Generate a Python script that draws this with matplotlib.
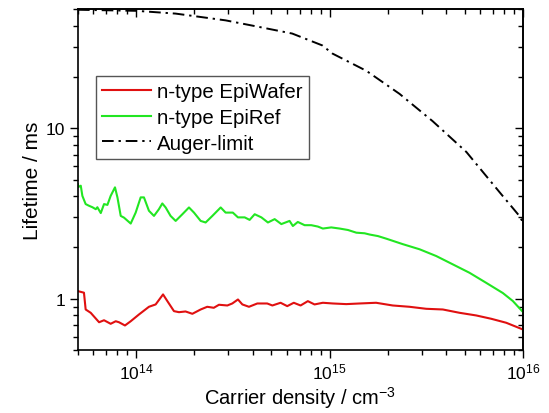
import matplotlib
matplotlib.use("Agg")
import matplotlib.pyplot as plt
from matplotlib.ticker import LogLocator, NullFormatter, FixedLocator, FixedFormatter

plt.rcParams['font.family'] = ['Liberation Sans', 'DejaVu Sans']
plt.rcParams['mathtext.fontset'] = 'custom'
plt.rcParams['mathtext.rm'] = 'Liberation Sans'
plt.rcParams['mathtext.it'] = 'Liberation Sans'

# n-type EpiWafer (carrier density in cm^-3, lifetime in ms)
wafer_n = [5.0e13, 5.37e13, 5.48e13, 5.82e13, 6.43e13, 6.82e13, 7.38e13, 7.84e13, 8.15e13, 8.75e13,
           9.37e13, 1.033e14, 1.164e14, 1.261e14, 1.377e14, 1.45e14, 1.568e14, 1.664e14, 1.80e14, 1.952e14,
           2.155e14, 2.33e14, 2.52e14, 2.68e14, 2.96e14, 3.14e14, 3.36e14, 3.54e14, 3.83e14, 4.23e14,
           4.76e14, 5.06e14, 5.58e14, 6.04e14, 6.53e14, 7.08e14, 7.72e14, 8.36e14, 9.23e14, 1.04e15,
           1.22e15, 1.43e15, 1.74e15, 2.12e15, 2.59e15, 3.16e15, 3.85e15, 4.70e15, 5.73e15, 6.85e15,
           8.19e15, 1.0e16]
wafer_tau = [1.108, 1.085, 0.865, 0.827, 0.728, 0.748, 0.713, 0.738, 0.728, 0.697,
             0.738, 0.808, 0.897, 0.926, 1.06, 0.968, 0.846, 0.834, 0.842, 0.816,
             0.865, 0.897, 0.885, 0.922, 0.913, 0.938, 0.99, 0.926, 0.897, 0.938,
             0.938, 0.913, 0.947, 0.905, 0.947, 0.913, 0.968, 0.926, 0.947, 0.938,
             0.93, 0.938, 0.947, 0.913, 0.897, 0.873, 0.865, 0.827, 0.798, 0.763,
             0.723, 0.66]

# n-type EpiRef
ref_n = [5.0e13, 5.02e13, 5.17e13, 5.27e13, 5.48e13, 5.70e13, 5.94e13, 6.18e13, 6.30e13, 6.56e13,
         6.82e13, 7.10e13, 7.38e13, 7.77e13, 8.00e13, 8.32e13, 8.65e13, 9.37e13, 9.94e13, 1.055e14,
         1.097e14, 1.164e14, 1.236e14, 1.311e14, 1.365e14, 1.42e14, 1.506e14, 1.60e14, 1.733e14, 1.875e14,
         1.99e14, 2.155e14, 2.286e14, 2.477e14, 2.735e14, 2.90e14, 3.16e14, 3.36e14, 3.64e14, 3.86e14,
         4.10e14, 4.44e14, 4.80e14, 5.20e14, 5.63e14, 6.21e14, 6.46e14, 6.85e14, 7.43e14, 8.04e14,
         8.70e14, 9.23e14, 1.02e15, 1.127e15, 1.245e15, 1.375e15, 1.518e15, 1.61e15, 1.78e15, 1.965e15,
         2.39e15, 2.92e15, 3.56e15, 4.34e15, 5.29e15, 6.45e15, 7.87e15, 8.86e15, 1.0e16]
ref_tau = [4.7, 4.52, 4.60, 4.01, 3.59, 3.51, 3.44, 3.35, 3.44, 3.18,
           3.59, 3.55, 4.01, 4.50, 3.93, 3.06, 2.99, 2.76, 3.20, 3.93,
           3.93, 3.28, 3.06, 3.35, 3.62, 3.43, 3.06, 2.86, 3.13, 3.43,
           3.20, 2.86, 2.80, 3.06, 3.43, 3.20, 3.20, 3.00, 3.00, 2.90,
           3.13, 3.00, 2.80, 2.93, 2.74, 2.86, 2.67, 2.82, 2.70, 2.70,
           2.65, 2.58, 2.62, 2.58, 2.53, 2.44, 2.42, 2.38, 2.33, 2.25,
           2.09, 1.95, 1.78, 1.59, 1.42, 1.24, 1.08, 0.97, 0.836]

# Auger-limit
auger_n = [5.0e13, 1.0e14, 1.6e14, 2.90e14, 4.30e14, 6.41e14, 9.16e14, 1.035e15, 1.55e15, 2.30e15,
           3.41e15, 5.10e15, 7.56e15, 9.6e15, 1.0e16]
auger_tau = [49.5, 48.8, 47.0, 42.9, 39.3, 35.9, 30.6, 27.4, 21.7, 15.9,
             11.0, 7.25, 4.22, 3.05, 2.8]

labels = ['n-type EpiWafer', 'n-type EpiRef', 'Auger-limit']
xticks = [1e14, 1e15, 1e16]
xticklabels = ['$10^{14}$', '$10^{15}$', '$10^{16}$']
yticks = [1, 10]
yticklabels = ['1', '10']

fig = plt.figure(figsize=(5.49, 4.14), dpi=100)
ax = fig.add_axes([0.142, 0.152, 0.8106, 0.8238])

ax.plot(wafer_n, wafer_tau, color='#e01010', lw=1.5, label=labels[0])
ax.plot(ref_n, ref_tau, color='#22e622', lw=1.5, label=labels[1])
ax.plot(auger_n, auger_tau, color='black', lw=1.4, linestyle=(0, (6, 2.5, 1.2, 2.5)), label=labels[2])

ax.set_xscale('log')
ax.set_yscale('log')
ax.set_xlim(5e13, 1e16)
ax.set_ylim(0.5, 50)

ax.xaxis.set_major_locator(FixedLocator(xticks))
ax.xaxis.set_major_formatter(FixedFormatter(xticklabels))
ax.xaxis.set_minor_locator(LogLocator(base=10, subs=range(2, 10), numticks=20))
ax.xaxis.set_minor_formatter(NullFormatter())
ax.yaxis.set_major_locator(FixedLocator(yticks))
ax.yaxis.set_major_formatter(FixedFormatter(yticklabels))
ax.yaxis.set_minor_locator(LogLocator(base=10, subs=range(2, 10), numticks=20))
ax.yaxis.set_minor_formatter(NullFormatter())

ax.tick_params(which='both', labelsize=12.5, width=1.0)
ax.tick_params(axis='both', which='major', length=6)
ax.tick_params(axis='both', which='minor', length=3.5)
ax.tick_params(axis='x', which='both', direction='out', top=False, pad=2.5)
ax.tick_params(axis='y', which='both', direction='out', right=False, pad=3)

# mirrored inward ticks on top and right
ax2 = ax.secondary_xaxis('top')
ax2.xaxis.set_major_locator(FixedLocator(xticks))
ax2.xaxis.set_minor_locator(LogLocator(base=10, subs=range(2, 10), numticks=20))
ax2.tick_params(which='both', direction='in', labeltop=False, width=1.0)
ax2.tick_params(which='major', length=6)
ax2.tick_params(which='minor', length=3.5)
ax2.xaxis.set_major_formatter(NullFormatter())
ax2.xaxis.set_minor_formatter(NullFormatter())
ay2 = ax.secondary_yaxis('right')
ay2.yaxis.set_major_locator(FixedLocator(yticks))
ay2.yaxis.set_minor_locator(LogLocator(base=10, subs=range(2, 10), numticks=20))
ay2.tick_params(which='both', direction='in', labelright=False, width=1.0)
ay2.tick_params(which='major', length=6)
ay2.tick_params(which='minor', length=3.5)
ay2.yaxis.set_major_formatter(NullFormatter())
ay2.yaxis.set_minor_formatter(NullFormatter())
for s in ax.spines.values():
    s.set_linewidth(1.2)
ax2.spines['top'].set_linewidth(1.2)
ay2.spines['right'].set_linewidth(1.2)

ax.set_xlabel('Carrier density / cm$^{-3}$', fontsize=14.5, labelpad=2)
ax.set_ylabel('Lifetime / ms', fontsize=15, labelpad=3)

leg = ax.legend(loc='upper left', bbox_to_anchor=(0.04, 0.8035), fontsize=14.7, frameon=True,
                fancybox=False, edgecolor='#555555', framealpha=1, handlelength=2.4,
                handletextpad=0.3, borderpad=0.3, labelspacing=0.33, borderaxespad=0)
leg.get_frame().set_linewidth(1.0)

fig.savefig('out.png', dpi=100)
